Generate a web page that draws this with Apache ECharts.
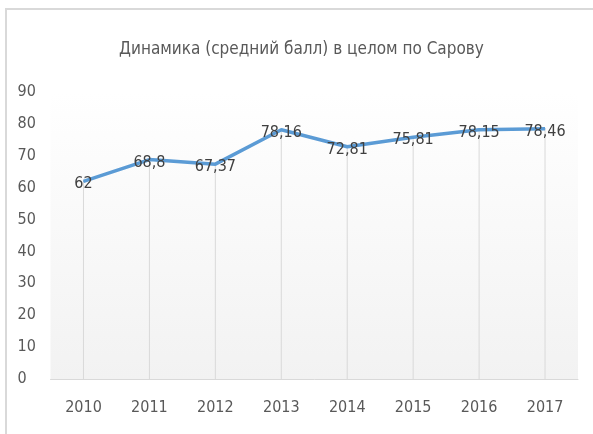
<!DOCTYPE html>
<html>
<head>
<meta charset="utf-8">
<script src="https://cdn.jsdelivr.net/npm/echarts@6/dist/echarts.min.js"></script>
<style>
  html, body { margin: 0; padding: 0; background: #ffffff; overflow: hidden; }
  #chart { position: absolute; left: 0; top: 0; width: 593px; height: 434px; }
  /* рамка области диаграммы (видны только левая и верхняя стороны) */
  .frame {
    position: absolute; left: 5px; top: 8px; width: 588px; height: 426px;
    border-left: 2px solid #d9d9d9; border-top: 2px solid #d9d9d9;
    box-sizing: border-box;
    pointer-events: none;
  }
</style>
</head>
<body>
<div id="chart"></div>
<div class="frame"></div>
<script>
// данные
const years = ['2010', '2011', '2012', '2013', '2014', '2015', '2016', '2017']
const avgScore = [62, 68.8, 67.37, 78.16, 72.81, 75.81, 78.15, 78.46]
const yTicks = { min: 0, max: 90, interval: 10 }

const FONT = '"Liberation Sans Narrow", "DejaVu Sans Condensed", "Open Sans", sans-serif'
const TEXT_COLOR = '#595959'

const chart = echarts.init(document.getElementById('chart'), null, { renderer: 'canvas' })

const option = {
    animation: false,
    backgroundColor: '#ffffff',
    title: {
        text: 'Динамика (средний балл) в целом по Сарову',
        left: 114,
        top: 36,
        textStyle: {
            color: TEXT_COLOR,
            fontFamily: FONT,
            fontSize: 17,
            fontWeight: 'normal',
        },
    },
    grid: {
        left: 50.5,
        right: 15,
        top: 92,
        bottom: 55,
        show: true,
        borderWidth: 0,
        backgroundColor: new echarts.graphic.LinearGradient(0, 0, 0, 1, [
            { offset: 0, color: '#ffffff' },
            { offset: 1, color: '#f2f2f2' },
        ]),
    },
    xAxis: {
        type: 'category',
        data: years,
        boundaryGap: true,
        axisLine: { lineStyle: { color: '#d9d9d9', width: 1 } },
        axisTick: { show: false },
        splitLine: { show: false },
        axisLabel: {
            color: TEXT_COLOR,
            fontFamily: FONT,
            fontSize: 16,
            margin: 21,
        },
    },
    yAxis: {
        type: 'value',
        min: yTicks.min,
        max: yTicks.max,
        interval: yTicks.interval,
        axisLine: { show: false },
        axisTick: { show: false },
        splitLine: { show: false },
        axisLabel: {
            color: TEXT_COLOR,
            fontFamily: FONT,
            fontSize: 16,
            align: 'left',
            margin: 33,
        },
    },
    series: [
        {
            // линии проекции от точек к оси
            type: 'bar',
            data: avgScore,
            barWidth: 1,
            silent: true,
            z: 1,
            itemStyle: { color: '#d9d9d9' },
        },
        {
            type: 'line',
            data: avgScore,
            z: 3,
            symbol: 'circle',
            symbolSize: 1,
            itemStyle: { color: '#5b9bd5' },
            lineStyle: { color: '#5b9bd5', width: 3.5 },
            label: {
                show: true,
                position: 'inside',
                offset: [0, 3],
                color: '#404040',
                fontFamily: FONT,
                fontSize: 16,
                formatter: (p) => String(p.value).replace('.', ','),
            },
        },
    ],
}

chart.setOption(option)
</script>
</body>
</html>
